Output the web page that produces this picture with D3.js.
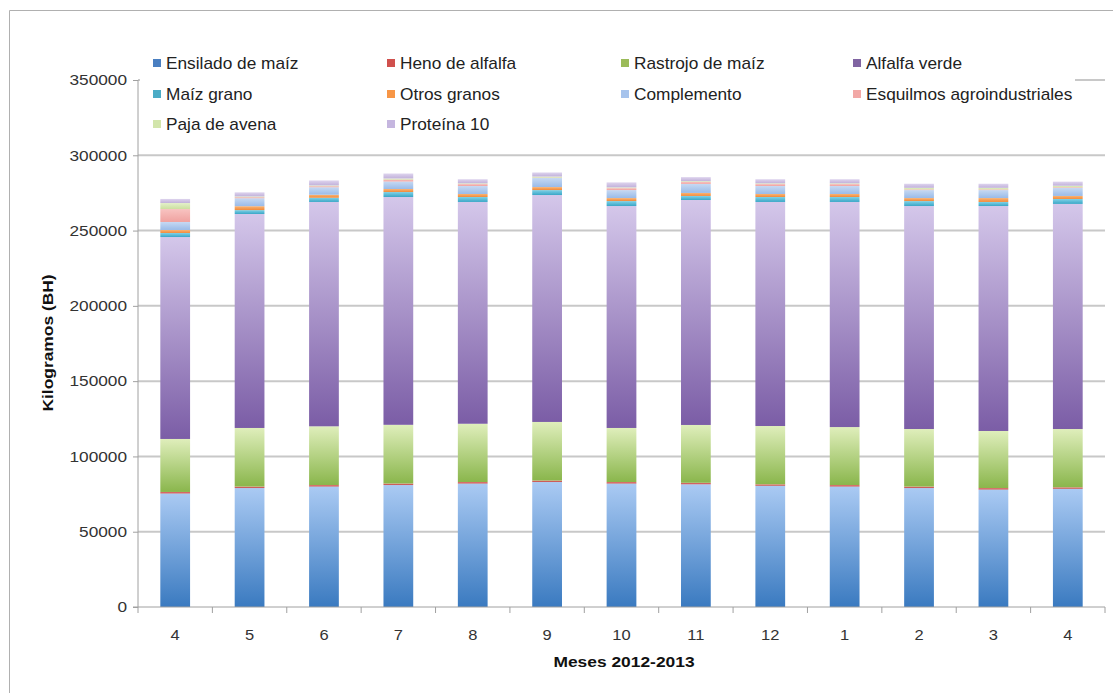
<!DOCTYPE html>
<html>
<head>
<meta charset="utf-8">
<script src="https://cdn.jsdelivr.net/npm/d3@7"></script>
<style>
  html, body { margin: 0; padding: 0; background: #fff; }
  svg { display: block; font-family: "Liberation Sans", Arial, sans-serif; }
</style>
</head>
<body>
<div id="chart"></div>
<script>
// ---- Data ----
const months = ["4", "5", "6", "7", "8", "9", "10", "11", "12", "1", "2", "3", "4"];
const seriesNames = ["Ensilado de maíz", "Heno de alfalfa", "Rastrojo de maíz", "Alfalfa verde",
  "Maíz grano", "Otros granos", "Complemento", "Esquilmos agroindustriales", "Paja de avena", "Proteína 10"];
const ensiladoMaiz   = [75400, 79000, 80000, 81000, 82000, 83000, 82000, 81500, 80500, 80000, 79000, 78000, 78500];
const henoAlfalfa    = [1000, 1000, 1000, 1000, 1000, 1000, 1000, 1000, 1000, 1000, 1000, 1000, 1000];
const rastrojoMaiz   = [35200, 38900, 39000, 39000, 38700, 38900, 35900, 38400, 38700, 38500, 38200, 37900, 38700];
const alfalfaVerde   = [134100, 142100, 149000, 151300, 147300, 150700, 147400, 149400, 148800, 149500, 148100, 149400, 149500];
const maizGrano      = [2700, 2600, 2800, 3300, 3300, 3300, 3300, 2700, 3300, 3300, 3300, 2700, 3300];
const otrosGranos    = [2000, 2600, 2000, 2000, 2000, 2000, 2000, 2000, 2000, 2000, 2000, 2600, 2000];
const complemento    = [5300, 5300, 5000, 5000, 5300, 6000, 5300, 6000, 5300, 5300, 5300, 5300, 5300];
const esquilmos      = [8600, 700, 700, 1300, 1300, 300, 1300, 1300, 1300, 1300, 500, 500, 500];
const pajaAvena      = [4000, 500, 500, 700, 500, 700, 500, 500, 500, 500, 1000, 1000, 1000];
const proteina10     = [2700, 2700, 3300, 3300, 2700, 2700, 3300, 2700, 2700, 2700, 2700, 2700, 2700];
const yTicks = [0, 50000, 100000, 150000, 200000, 250000, 300000, 350000];

const seriesValues = [ensiladoMaiz, henoAlfalfa, rastrojoMaiz, alfalfaVerde, maizGrano,
  otrosGranos, complemento, esquilmos, pajaAvena, proteina10];

// colours: [legend, gradient top, gradient bottom]
const colors = [
  ["#4A7FC1", "#AACAF3", "#3A7AC0"],
  ["#D0504D", "#E57370", "#C0504D"],
  ["#9BBB59", "#DFEEBB", "#8AB64C"],
  ["#8064A2", "#D4C7EA", "#7B5DA6"],
  ["#4BACC6", "#80D2E8", "#3AA6C6"],
  ["#F79646", "#FBB473", "#F08A3A"],
  ["#A6C3EC", "#C6D9F3", "#9ABBE8"],
  ["#F2A8A6", "#F8C3C1", "#EFA2A0"],
  ["#D2E5AB", "#E4F0CA", "#CBE0A0"],
  ["#C5B6DF", "#DED4EE", "#C1B1DA"]
];

const table = months.map((m, i) => {
  const row = { idx: i, month: m };
  seriesNames.forEach((s, k) => row[s] = seriesValues[k][i]);
  return row;
});

// ---- Layout ----
const W = 1113, H = 693;
const plot = { left: 138, right: 1105, top: 80, bottom: 607 };

const svg = d3.select("#chart").append("svg").attr("width", W).attr("height", H);

const defs = svg.append("defs");
colors.forEach((c, k) => {
  const g = defs.append("linearGradient").attr("id", "grad" + k)
    .attr("x1", 0).attr("y1", 0).attr("x2", 0).attr("y2", 1);
  g.append("stop").attr("offset", "0%").attr("stop-color", c[1]);
  g.append("stop").attr("offset", "100%").attr("stop-color", c[2]);
});

// outer chart border (left + top)
svg.append("path").attr("d", `M9.5,693 V10.5 H1113`).attr("fill", "none")
  .attr("stroke", "#B0B0B0").attr("stroke-width", 1);

const x = d3.scaleBand().domain(d3.range(months.length))
  .range([plot.left, plot.right]).paddingInner(0.6).paddingOuter(0.3);
const y = d3.scaleLinear().domain([0, 350000]).range([plot.bottom, plot.top]);

// gridlines
svg.append("g").selectAll("line").data(yTicks.filter(t => t > 0)).join("line")
  .attr("x1", plot.left).attr("x2", plot.right)
  .attr("y1", d => y(d)).attr("y2", d => y(d))
  .attr("stroke", "#C8C8C8").attr("stroke-width", 2);

// bars
const stack = d3.stack().keys(seriesNames)(table);
svg.append("g").selectAll("g").data(stack).join("g")
  .attr("fill", (d, k) => `url(#grad${k})`)
  .selectAll("rect").data(d => d).join("rect")
  .attr("x", d => x(d.data.idx))
  .attr("width", x.bandwidth())
  .attr("y", d => y(d[1]))
  .attr("height", d => Math.max(0, y(d[0]) - y(d[1])));

// y axis
const yAxis = d3.axisLeft(y).tickValues(yTicks).tickSize(5).tickPadding(6).tickFormat(d3.format("d"));
const gy = svg.append("g").attr("transform", `translate(${plot.left},0)`).call(yAxis);
gy.select(".domain").attr("stroke", "#A0A0A0").attr("d", `M0,${plot.top}V${plot.bottom}`);
gy.selectAll(".tick line").attr("stroke", "#A0A0A0");
gy.selectAll(".tick text").attr("fill", "#333").style("font-size", "15px")
  .attr("font-family", "Liberation Sans, Arial, sans-serif")
  .attr("x", 0).attr("transform", "translate(-11,0) scale(1.15,1)");

// x axis
const xAxis = d3.axisBottom(x).tickFormat(i => months[i]).tickSize(0).tickPadding(22);
const gx = svg.append("g").attr("transform", `translate(0,${plot.bottom})`).call(xAxis);
gx.select(".domain").attr("stroke", "#A0A0A0").attr("d", `M${plot.left - 5},0H${plot.right}`);
gx.selectAll(".tick text").attr("fill", "#333").style("font-size", "15px")
  .attr("font-family", "Liberation Sans, Arial, sans-serif")
  .attr("transform", "scale(1.1,1)");
const bounds = d3.range(months.length + 1).map(i => plot.left + i * (plot.right - plot.left) / months.length);
gx.append("g").selectAll("line").data(bounds).join("line")
  .attr("x1", d => d).attr("x2", d => d).attr("y1", 0).attr("y2", 6)
  .attr("stroke", "#A0A0A0");

// axis titles
svg.append("text").attr("transform", `translate(53,343) rotate(-90) scale(1.2,1)`)
  .attr("text-anchor", "middle").attr("font-weight", "bold").attr("font-size", 14.5)
  .attr("fill", "#111").text("Kilogramos (BH)");
svg.append("text").attr("transform", `translate(624,667) scale(1.2,1)`)
  .attr("text-anchor", "middle").attr("font-weight", "bold").attr("font-size", 14.5)
  .attr("fill", "#111").text("Meses 2012-2013");

// legend
const lg = svg.append("g");
lg.append("rect").attr("x", 140).attr("y", 45).attr("width", 935).attr("height", 95).attr("fill", "#fff");
const colX = [153, 387, 621, 853];
const rowY = [63, 94, 124];
seriesNames.forEach((s, k) => {
  const cx = colX[k % 4], cy = rowY[Math.floor(k / 4)];
  lg.append("rect").attr("x", cx).attr("y", cy - 4).attr("width", 8).attr("height", 8)
    .attr("fill", colors[k][0]);
  lg.append("text").attr("transform", `translate(${cx + 13},${cy + 5.5}) scale(1.08,1)`)
    .attr("font-size", 16).attr("fill", "#222").text(s);
});
</script>
</body>
</html>
